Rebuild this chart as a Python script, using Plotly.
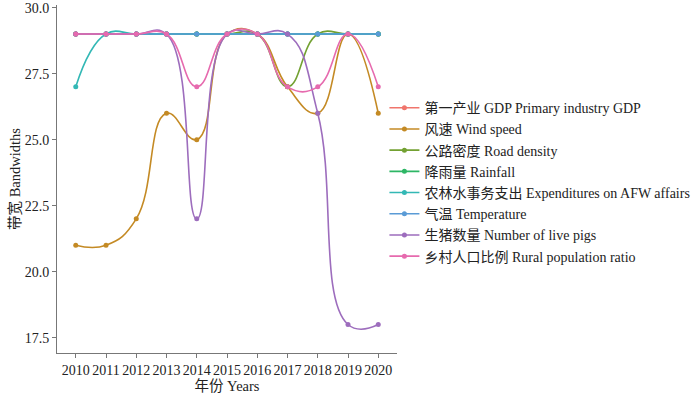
import plotly.graph_objects as go

years = [2010, 2011, 2012, 2013, 2014, 2015, 2016, 2017, 2018, 2019, 2020]

names = [
    "第一产业 GDP Primary industry GDP",
    "风速 Wind speed",
    "公路密度 Road density",
    "降雨量 Rainfall",
    "农林水事务支出 Expenditures on AFW affairs",
    "气温 Temperature",
    "生猪数量 Number of live pigs",
    "乡村人口比例 Rural population ratio",
]

gdp = [29, 29, 29, 29, 29, 29, 29, 29, 29, 29, 29]
wind = [21, 21, 22, 26, 25, 29, 29, 27, 26, 29, 26]
road = [29, 29, 29, 29, 29, 29, 29, 27, 29, 29, 29]
rain = [29, 29, 29, 29, 29, 29, 29, 29, 29, 29, 29]
afw = [27, 29, 29, 29, 29, 29, 29, 29, 29, 29, 29]
temp = [29, 29, 29, 29, 29, 29, 29, 29, 29, 29, 29]
pigs = [29, 29, 29, 29, 22, 29, 29, 29, 26, 18, 18]
rural = [29, 29, 29, 29, 27, 29, 29, 27, 27, 29, 27]

series = [gdp, wind, road, rain, afw, temp, pigs, rural]
colors = ["#F0756C", "#C48A24", "#73A132", "#2DB665", "#33B8B5", "#5A9BD6", "#9D6DBD", "#E66AAE"]

y_ticks = [17.5, 20.0, 22.5, 25.0, 27.5, 30.0]

font_family = "Liberation Serif, Times New Roman, Noto Sans CJK SC, serif"

fig = go.Figure()
for name, vals, col in zip(names, series, colors):
    fig.add_trace(go.Scatter(
        x=years, y=vals, name=name, mode="lines+markers",
        line=dict(color=col, width=1.6, shape="spline", smoothing=1.3),
        marker=dict(color=col, size=5),
    ))

axis_common = dict(
    showline=True, linecolor="#777777", linewidth=1,
    ticks="outside", ticklen=4, tickcolor="#777777",
    showgrid=False, zeroline=False, automargin=False,
    tickfont=dict(size=14, color="#222222", family=font_family),
)

fig.update_layout(
    width=700, height=394,
    paper_bgcolor="white", plot_bgcolor="white",
    margin=dict(l=57, r=303, t=5, b=41, autoexpand=False),
    font=dict(family=font_family, color="#222222"),
    xaxis=dict(range=[2009.38, 2020.62], tickmode="array", tickvals=years,
               ticktext=[str(y) for y in years],
               title=dict(text="年份 Years", font=dict(size=14.5), standoff=0),
               **axis_common),
    yaxis=dict(range=[16.92, 30.1], tickmode="array", tickvals=y_ticks,
               ticktext=[f"{v:.1f}" for v in y_ticks],
               title=dict(text="带宽 Bandwidths", font=dict(size=14.5), standoff=0),
               **axis_common),
    legend=dict(x=0.963, y=0.491, xanchor="left", yanchor="middle",
                font=dict(size=14, family=font_family, color="#222222"),
                itemwidth=30, tracegroupgap=0, bgcolor="rgba(0,0,0,0)"),
    showlegend=True,
)

fig.write_html(
    "out.html",
    config={"displayModeBar": False},
    post_script="document.body.style.margin='0';document.body.style.overflow='hidden';",
)
